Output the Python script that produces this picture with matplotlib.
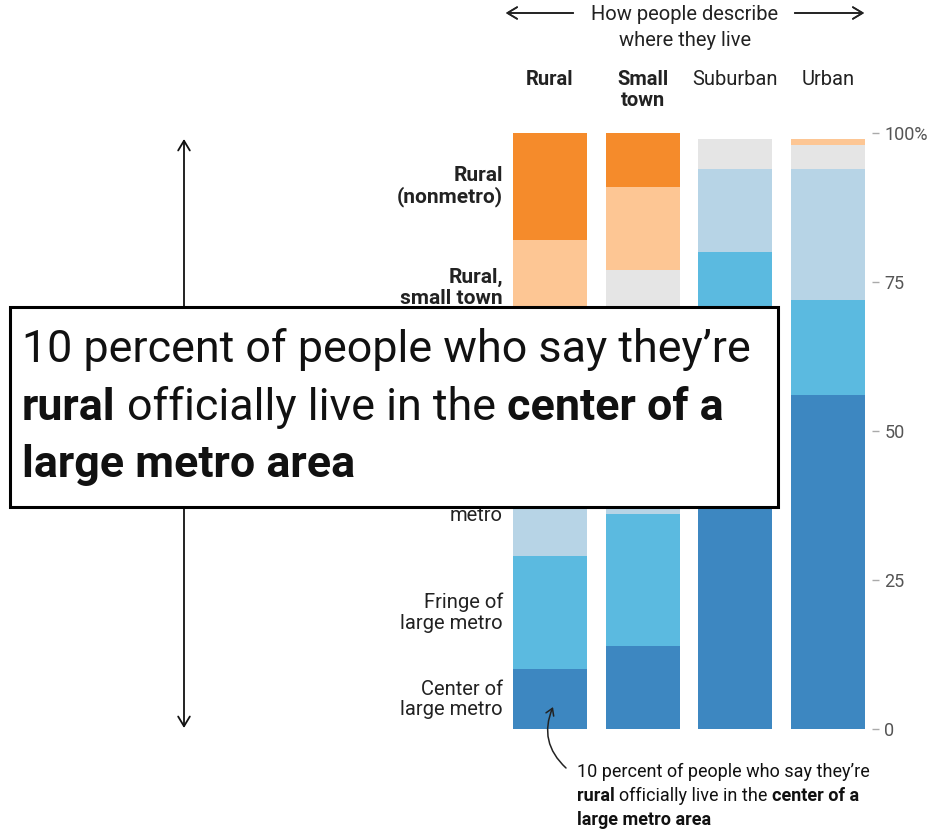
import numpy as np
import matplotlib
matplotlib.use("Agg")
import matplotlib.pyplot as plt
from matplotlib.patches import Rectangle
from matplotlib.transforms import blended_transform_factory

# ====== DATA (percent of each self-described group) ======
groups = ["Rural", "Small\ntown", "Suburban", "Urban"]
group_bold = [True, True, False, False]

categories = ["Center of\nlarge metro", "Fringe of\nlarge metro", "Medium\nmetro",
              "Small metro", "Rural,\nsmall town", "Rural\n(nonmetro)"]
category_bold = [False, False, False, False, True, True]
# the grey category's label sits fully under the call-out box in the original
category_shown = [True, True, True, False, True, True]

center_large = [10, 14, 48, 56]
fringe_large = [19, 22, 32, 16]
medium_metro = [17, 14, 14, 22]
small_metro = [20, 27, 5, 4]
rural_small_town = [16, 14, 0, 1]
rural_nonmetro = [18, 9, 0, 0]

ytick_vals = [0, 25, 50, 75, 100]
ytick_labels = ["0", "25", "50", "75", "100%"]

colors = ["#3d87c1", "#5bbae0", "#b7d4e6", "#e5e5e5", "#fdc694", "#f58b2b"]

W, H = 932, 830
FONT = ["Roboto", "DejaVu Sans"]
plt.rcParams["font.family"] = FONT

fig = plt.figure(figsize=(W / 100, H / 100), dpi=100)
renderer = fig.canvas.get_renderer()


def fp(x, y):
    # pixel position (from top-left) -> figure fraction
    return (x / W, 1 - y / H)


ax = fig.add_axes([503.65 / W, 101 / H, 368.3 / W, 596 / H])
ax.set_xlim(-0.5, 3.474)
ax.set_ylim(0, 100)

series = [center_large, fringe_large, medium_metro, small_metro,
          rural_small_town, rural_nonmetro]
x = np.arange(len(groups))
bottom = np.zeros(len(groups))
for vals, col in zip(series, colors):
    ax.bar(x, vals, bottom=bottom, width=0.8, color=col, linewidth=0)
    bottom += np.array(vals)

for s in ax.spines.values():
    s.set_visible(False)
ax.set_xticks([])
ax.yaxis.tick_right()
ax.set_yticks(ytick_vals)
ax.set_yticklabels(ytick_labels)
ax.tick_params(axis="y", length=5, width=1, color="#aaaaaa", pad=4,
               labelsize=13, labelcolor="#555555")
ax.yaxis.get_major_ticks()[0].tick2line.set_color("#222222")

# category labels, centred on the segments of the first bar
lab_tr = blended_transform_factory(fig.transFigure, ax.transData)
base = 0
for i, name in enumerate(categories):
    v = series[i][0]
    if category_shown[i]:
        bold = category_bold[i]
        ax.text(503 / W, base + v / 2, name, transform=lab_tr, ha="right", va="center",
                fontsize=15 if bold else 14.5, linespacing=1.08, color="#222222",
                fontweight="bold" if bold else "normal")
    base += v

# group headers
head_tr = blended_transform_factory(ax.transData, fig.transFigure)
for i, g in enumerate(groups):
    ax.text(i, 1 - 70 / H, g, transform=head_tr, ha="center", va="top",
            fontsize=14.5, linespacing=1.1, color="#222222",
            fontweight="bold" if group_bold[i] else "normal")

fig.text(*fp(685, 14), "How people describe", ha="center", va="center",
         fontsize=14.5, color="#222222")
fig.text(*fp(685, 41), "where they live", ha="center", va="center",
         fontsize=14.5, color="#222222")
arrow_kw = dict(arrowstyle="->,head_length=0.5,head_width=0.3", lw=1.2, color="#222222")
fig.add_artist(plt.annotate("", xy=fp(503, 13), xytext=fp(576, 13),
                            xycoords="figure fraction", textcoords="figure fraction",
                            arrowprops=dict(arrow_kw, mutation_scale=14)))
fig.add_artist(plt.annotate("", xy=fp(867, 13), xytext=fp(792, 13),
                            xycoords="figure fraction", textcoords="figure fraction",
                            arrowprops=dict(arrow_kw, mutation_scale=14)))

# long vertical arrow on the left
ax.annotate("", xy=fp(184, 139), xytext=fp(184, 728),
            xycoords="figure fraction", textcoords="figure fraction",
            arrowprops=dict(arrowstyle="<->,head_length=0.5,head_width=0.3",
                            lw=1.3, color="#111111", mutation_scale=14,
                            shrinkA=0, shrinkB=0),
            annotation_clip=False)

# curved pointer to the first bar
ax.annotate("", xy=fp(553, 707), xytext=fp(566, 768),
            xycoords="figure fraction", textcoords="figure fraction",
            arrowprops=dict(arrowstyle="->,head_length=0.4,head_width=0.25",
                            connectionstyle="arc3,rad=-0.35", lw=1.1,
                            color="#222222", mutation_scale=12, shrinkA=0, shrinkB=0),
            annotation_clip=False)


def space_w(size, weight):
    a = fig.text(0, 0, "x x", fontsize=size, fontweight=weight)
    b = fig.text(0, 0, "xx", fontsize=size, fontweight=weight)
    w = a.get_window_extent(renderer).width - b.get_window_extent(renderer).width
    a.remove()
    b.remove()
    return w


def rich_line(x_px, y_px, parts, size, light="normal", z=5):
    xx = x_px
    for i, (txt, bold) in enumerate(parts):
        w = "bold" if bold else light
        t = fig.text(xx / W, 1 - y_px / H, txt, fontsize=size, fontweight=w,
                     ha="left", va="baseline", color="#111111", zorder=z)
        xx += t.get_window_extent(renderer).width
        if i < len(parts) - 1:
            xx += space_w(size, w)


note = [
    [("10 percent of people who say they\u2019re", False)],
    [("rural", True), ("officially live in the", False), ("center of a", True)],
    [("large metro area", True)],
]

for k, parts in enumerate(note):
    rich_line(577, 777 + 24 * k, parts, 13)

# enlarged call-out box over the chart
fig.add_artist(Rectangle(fp(10, 507), 768 / W, 200 / H, transform=fig.transFigure,
                         facecolor="white", edgecolor="black", lw=2.2, zorder=10))
probe = fig.text(0, 0, note[0][0][0], fontsize=32)
big = 32 * 730 / probe.get_window_extent(renderer).width
probe.remove()
for k, parts in enumerate(note):
    rich_line(22, 362 + 57.5 * k, parts, big, z=11)

fig.savefig("out.png", dpi=100)
